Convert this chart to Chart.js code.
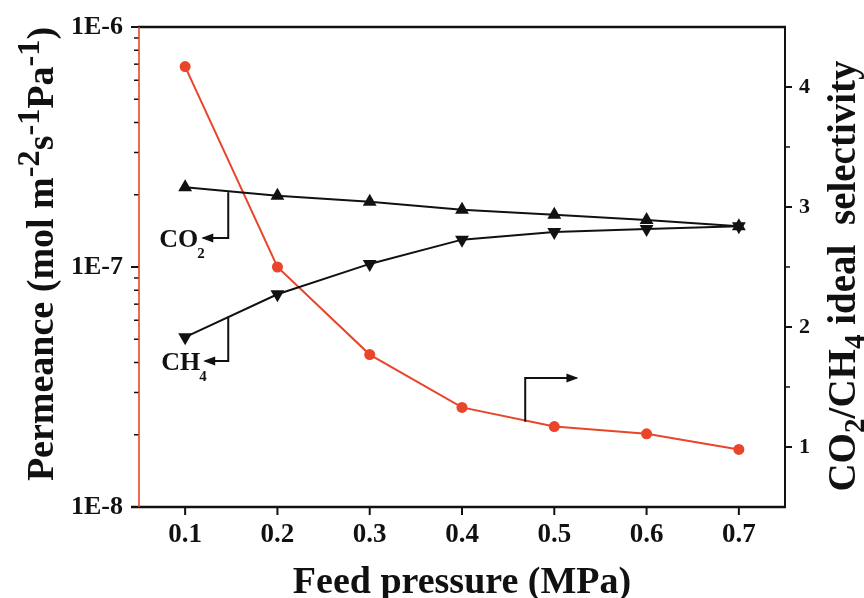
<!DOCTYPE html>
<html>
<head>
<meta charset="utf-8">
<title>Permeance and selectivity vs feed pressure</title>
<script src="https://cdn.jsdelivr.net/npm/chart.js@4/dist/chart.umd.min.js"></script>
<style>
    html, body { margin: 0; padding: 0; background: #fff; }
    #wrap { width: 864px; height: 598px; }
</style>
</head>
<body>
<div id="wrap"><canvas id="chart" width="864" height="598"></canvas></div>
<script>
(function() {
    'use strict';

    // values
    var pressures = [0.1, 0.2, 0.3, 0.4, 0.5, 0.6, 0.7];
    var co2Permeance = [2.15e-7, 1.98e-7, 1.87e-7, 1.73e-7, 1.65e-7, 1.57e-7, 1.48e-7];
    var ch4Permeance = [5.1e-8, 7.7e-8, 1.03e-7, 1.30e-7, 1.40e-7, 1.44e-7, 1.48e-7];
    var selectivity = [4.17, 2.50, 1.77, 1.33, 1.17, 1.11, 0.98];

    var xTicks = [0.1, 0.2, 0.3, 0.4, 0.5, 0.6, 0.7];
    var leftMajorTicks = [1e-8, 1e-7, 1e-6];
    var leftTickLabels = ['1E-8', '1E-7', '1E-6'];
    var leftMinorSteps = [2, 3, 4, 5, 6, 7, 8, 9];
    var rightMajorTicks = [1, 2, 3, 4];
    var rightMinorTicks = [1.5, 2.5, 3.5];

    var SERIF = '"Liberation Serif", "Times New Roman", serif';
    var INK = '#111111';
    var RED = '#e8452b';

    function points(values) {
        return pressures.map(function(p, i) { return { x: p, y: values[i] }; });
    }

    function leftTickValues() {
        var out = [];
        leftMajorTicks.forEach(function(d, i) {
            out.push({ value: d, major: true });
            if (i < leftMajorTicks.length - 1) {
                leftMinorSteps.forEach(function(m) { out.push({ value: d * m, major: false }); });
            }
        });
        return out;
    }

    function drawRich(ctx, parts, x, y, size) {
        var total = 0;
        parts.forEach(function(p) {
            ctx.font = 'bold ' + (size * (p.scale || 1)) + 'px ' + SERIF;
            p.w = ctx.measureText(p.text).width;
            total += p.w;
        });
        var cx = x - total / 2;
        ctx.textAlign = 'left';
        ctx.textBaseline = 'alphabetic';
        parts.forEach(function(p) {
            ctx.font = 'bold ' + (size * (p.scale || 1)) + 'px ' + SERIF;
            ctx.fillText(p.text, cx, y + (p.shift || 0) * size);
            cx += p.w;
        });
    }

    var SUP = { scale: 0.85, shift: -0.36 };
    var SUB = { scale: 0.75, shift: 0.22 };
    function sup(t) { return { text: t, scale: SUP.scale, shift: SUP.shift }; }
    function sub(t) { return { text: t, scale: SUB.scale, shift: SUB.shift }; }

    // arrows pointing each curve to its axis, in data units
    var arrowNotes = [
        { axis: 'y', path: [[0.1467, 2.05e-7], [0.1467, 1.32e-7], [0.1196, 1.32e-7]], label: ['CO', '2'] },
        { axis: 'y', path: [[0.1467, 6.2e-8], [0.1467, 4.06e-8], [0.1217, 4.06e-8]], label: ['CH', '4'] },
        { axis: 'y1', path: [[0.4685, 1.21], [0.4685, 1.575], [0.524, 1.575]] }
    ];

    var framePlugin = {
        id: 'frame',
        afterDatasetsDraw: function(chart) {
            var ctx = chart.ctx;
            var a = chart.chartArea;
            var sx = chart.scales.x, sy = chart.scales.y, sr = chart.scales.y1;

            ctx.save();
            ctx.lineCap = 'butt';

            // tick marks
            ctx.strokeStyle = INK;
            function tick(x1, y1, x2, y2, w) {
                ctx.lineWidth = w;
                ctx.beginPath();
                ctx.moveTo(x1, y1);
                ctx.lineTo(x2, y2);
                ctx.stroke();
            }
            xTicks.forEach(function(v) {
                var px = sx.getPixelForValue(v);
                tick(px, a.bottom, px, a.bottom + 8, 2);
            });
            leftTickValues().forEach(function(t) {
                var py = sy.getPixelForValue(t.value);
                tick(a.left - (t.major ? 8 : 5), py, a.left, py, t.major ? 2 : 1.5);
            });
            rightMajorTicks.forEach(function(v) {
                var py = sr.getPixelForValue(v);
                tick(a.right, py, a.right + 7, py, 2);
            });
            rightMinorTicks.forEach(function(v) {
                var py = sr.getPixelForValue(v);
                tick(a.right, py, a.right + 5, py, 1.5);
            });

            // frame
            tick(a.left - 1, a.top, a.right + 1, a.top, 2.5);
            tick(a.right, a.top, a.right, a.bottom, 2);
            tick(a.left - 8, a.bottom, a.right + 1, a.bottom, 2.5);
            ctx.strokeStyle = RED;
            tick(a.left, a.top, a.left, a.bottom, 1.6);

            // annotation arrows
            ctx.strokeStyle = INK;
            ctx.fillStyle = INK;
            arrowNotes.forEach(function(n) {
                var ys = chart.scales[n.axis];
                var pts = n.path.map(function(p) { return [sx.getPixelForValue(p[0]), ys.getPixelForValue(p[1])]; });
                ctx.lineWidth = 2;
                ctx.beginPath();
                ctx.moveTo(pts[0][0], pts[0][1]);
                for (var i = 1; i < pts.length; i++) ctx.lineTo(pts[i][0], pts[i][1]);
                ctx.stroke();
                var end = pts[pts.length - 1], prev = pts[pts.length - 2];
                var dir = end[0] > prev[0] ? 1 : -1;
                ctx.beginPath();
                ctx.moveTo(end[0] + dir * 2, end[1]);
                ctx.lineTo(end[0] - dir * 10, end[1] - 4.5);
                ctx.lineTo(end[0] - dir * 10, end[1] + 4.5);
                ctx.closePath();
                ctx.fill();
                if (n.label) {
                    ctx.font = 'bold 26px ' + SERIF;
                    ctx.textAlign = 'right';
                    ctx.textBaseline = 'alphabetic';
                    ctx.fillText(n.label[0], end[0] - 5, end[1] + 9);
                    ctx.font = 'bold 15px ' + SERIF;
                    ctx.textAlign = 'left';
                    ctx.fillText(n.label[1], end[0] - 6, end[1] + 20);
                }
            });

            // axis titles
            ctx.fillStyle = INK;
            drawRich(ctx, [{ text: 'Feed pressure (MPa)' }], (a.left + a.right) / 2, 593, 38);

            ctx.save();
            ctx.translate(53, 254);
            ctx.rotate(-Math.PI / 2);
            drawRich(ctx, [
                { text: 'Permeance (mol m' }, sup('-2'), { text: 's' }, sup('-1'),
                { text: 'Pa' }, sup('-1'), { text: ')' }
            ], 0, 0, 38);
            ctx.restore();

            ctx.save();
            ctx.translate(855, 276);
            ctx.rotate(-Math.PI / 2);
            drawRich(ctx, [
                { text: 'CO' }, sub('2'), { text: '/CH' }, sub('4'), { text: ' ideal  selectivity' }
            ], 0, 0, 39);
            ctx.restore();

            ctx.restore();
        }
    };

    var hiddenGrid = { display: true, drawOnChartArea: false, drawTicks: true, tickColor: 'rgba(0,0,0,0)' };

    var ctx = document.getElementById('chart').getContext('2d');
    new Chart(ctx, {
        type: 'line',
        data: {
            datasets: [{
                label: 'CO2',
                data: points(co2Permeance),
                yAxisID: 'y',
                borderColor: INK,
                backgroundColor: INK,
                borderWidth: 2,
                pointStyle: 'triangle',
                pointRadius: 8,
                pointBorderWidth: 0,
                tension: 0
            }, {
                label: 'CH4',
                data: points(ch4Permeance),
                yAxisID: 'y',
                borderColor: INK,
                backgroundColor: INK,
                borderWidth: 2,
                pointStyle: 'triangle',
                pointRotation: 180,
                pointRadius: 8,
                pointBorderWidth: 0,
                tension: 0
            }, {
                label: 'Selectivity',
                data: points(selectivity),
                yAxisID: 'y1',
                borderColor: RED,
                backgroundColor: RED,
                borderWidth: 2,
                pointStyle: 'circle',
                pointRadius: 5.5,
                pointBorderWidth: 0,
                tension: 0
            }]
        },
        options: {
            responsive: false,
            animation: false,
            layout: { padding: { top: 27, left: 0, right: 0, bottom: 0 } },
            plugins: {
                legend: { display: false },
                tooltip: { enabled: false }
            },
            scales: {
                x: {
                    type: 'linear',
                    min: 0.05,
                    max: 0.75,
                    afterBuildTicks: function(scale) {
                        scale.ticks = xTicks.map(function(v) { return { value: v }; });
                    },
                    afterFit: function(scale) { scale.height = 91; },
                    grid: Object.assign({ tickLength: 8 }, hiddenGrid),
                    border: { display: false },
                    ticks: {
                        autoSkip: false,
                        maxRotation: 0,
                        padding: 4,
                        color: INK,
                        font: { family: SERIF, size: 27, weight: 'bold' },
                        callback: function(value) { return Number(value).toFixed(1); }
                    }
                },
                y: {
                    type: 'logarithmic',
                    position: 'left',
                    min: 1e-8,
                    max: 1e-6,
                    afterBuildTicks: function(scale) { scale.ticks = leftTickValues(); },
                    afterFit: function(scale) { scale.width = 139; },
                    grid: Object.assign({ tickLength: 8 }, hiddenGrid),
                    border: { display: false },
                    ticks: {
                        autoSkip: false,
                        padding: 8,
                        color: INK,
                        font: { family: SERIF, size: 26, weight: 'bold' },
                        callback: function(value) {
                            var i = leftMajorTicks.indexOf(value);
                            return i >= 0 ? leftTickLabels[i] : '';
                        }
                    }
                },
                y1: {
                    type: 'linear',
                    position: 'right',
                    min: 0.5,
                    max: 4.5,
                    afterBuildTicks: function(scale) {
                        scale.ticks = rightMajorTicks.map(function(v) { return { value: v }; });
                    },
                    afterFit: function(scale) { scale.width = 79; },
                    grid: Object.assign({ tickLength: 7 }, hiddenGrid),
                    border: { display: false },
                    ticks: {
                        autoSkip: false,
                        padding: 7,
                        color: INK,
                        font: { family: SERIF, size: 22, weight: 'bold' },
                        callback: function(value) { return String(value); }
                    }
                }
            }
        },
        plugins: [framePlugin]
    });
})();
</script>
</body>
</html>
